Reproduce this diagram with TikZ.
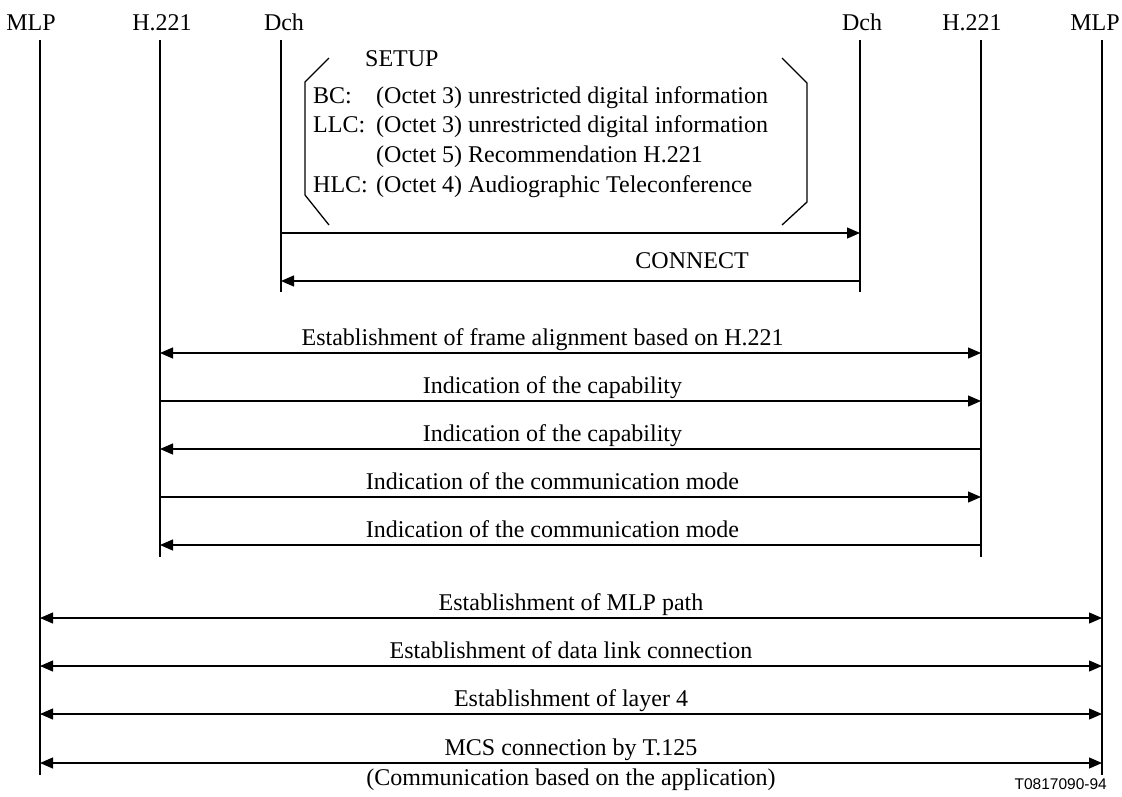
\documentclass[tikz,border=0pt]{standalone}
\usepackage{fontspec}
\setmainfont{Liberation Serif}
\newfontfamily\figsans{Liberation Sans}
\usepackage{tikz}
\usetikzlibrary{arrows.meta, positioning}

\begin{document}
\begin{tikzpicture}[x=1pt, y=-1pt,
        font=\fontsize{24}{28}\selectfont,
        life/.style={line width=1.3pt},
        msg/.style={line width=1.2pt, -{Triangle[length=13pt,width=11pt]}},
        back/.style={line width=1.2pt, {Triangle[length=13pt,width=11pt]}-},
        both/.style={line width=1.2pt, {Triangle[length=13pt,width=11pt]}-{Triangle[length=13pt,width=11pt]}},
        lbl/.style={anchor=base, inner sep=0pt, yshift=8pt, pos=0.478},
        txt/.style={anchor=base west, inner sep=0pt}]
        \useasboundingbox (0,0) rectangle (1122,796);

        % lifeline heads
        \node[anchor=base] (mlpLh) at (31,30) {MLP};
        \node[anchor=base] (h221Lh) at (162,30) {H.221};
        \node[anchor=base] (dchLh) at (284,30) {Dch};
        \node[anchor=base] (dchRh) at (862,30) {Dch};
        \node[anchor=base] (h221Rh) at (972,30) {H.221};
        \node[anchor=base] (mlpRh) at (1095,30) {MLP};

        \coordinate (mlpL) at (40,40);
        \coordinate (h221L) at (160,40);
        \coordinate (dchL) at (281,40);
        \coordinate (dchR) at (860,40);
        \coordinate (h221R) at (981,40);
        \coordinate (mlpR) at (1102,40);

        \draw[life] (mlpL) -- ++(0,735);
        \draw[life] (mlpR) -- ++(0,735);
        \draw[life] (h221L) -- ++(0,517);
        \draw[life] (h221R) -- ++(0,517);
        \draw[life] (dchL) -- ++(0,252);
        \draw[life] (dchR) -- ++(0,252);

        % SETUP contents
        \draw[life] (329,58) -- (305,82) -- (305,195) -- (329,225);
        \draw[life] (782,58) -- (807,83) -- (807,202) -- (782,225);
        \node[txt] (setup) at (365,66) {SETUP};
        \node[txt] (bc) at (313,103) {BC:};
        \node[txt] (bcval) at (376,103) {(Octet 3) unrestricted digital information};
        \node[txt] (llc) at (313,132) {LLC:};
        \node[txt] (llcval) at (376,132) {(Octet 3) unrestricted digital information};
        \node[txt] (llcval2) at (376,162) {(Octet 5) Recommendation H.221};
        \node[txt] (hlc) at (313,192) {HLC:};
        \node[txt] (hlcval) at (376,192) {(Octet 4) Audiographic Teleconference};

        % D channel
        \draw[msg] (dchL |- 0,233) -- (dchR |- 0,233);
        \draw[back] (dchL |- 0,281) -- node[lbl, pos=0.71, yshift=5pt] (connect) {CONNECT} (dchR |- 0,281);

        % H.221
        \draw[both] (h221L |- 0,353) -- node[lbl, pos=0.466] (frame) {Establishment of frame alignment based on H.221} (h221R |- 0,353);
        \draw[msg] (h221L |- 0,401) -- node[lbl] (cap1) {Indication of the capability} (h221R |- 0,401);
        \draw[back] (h221L |- 0,449) -- node[lbl] (cap2) {Indication of the capability} (h221R |- 0,449);
        \draw[msg] (h221L |- 0,497) -- node[lbl] (mode1) {Indication of the communication mode} (h221R |- 0,497);
        \draw[back] (h221L |- 0,545) -- node[lbl] (mode2) {Indication of the communication mode} (h221R |- 0,545);

        % MLP
        \draw[both] (mlpL |- 0,618) -- node[lbl, pos=0.5] (path) {Establishment of MLP path} (mlpR |- 0,618);
        \draw[both] (mlpL |- 0,666) -- node[lbl, pos=0.5] (link) {Establishment of data link connection} (mlpR |- 0,666);
        \draw[both] (mlpL |- 0,714) -- node[lbl, pos=0.5] (layer) {Establishment of layer 4} (mlpR |- 0,714);
        \draw[both] (mlpL |- 0,763) -- node[lbl, pos=0.5] (mcs) {MCS connection by T.125} (mlpR |- 0,763);
        \node[anchor=base] (appl) at (571,785) {(Communication based on the application)};
        \node[anchor=base east, inner sep=0pt, font=\figsans\fontsize{15.5}{18}\selectfont] (fig) at (1107,789) {T0817090-94};
    \end{tikzpicture}
\end{document}
